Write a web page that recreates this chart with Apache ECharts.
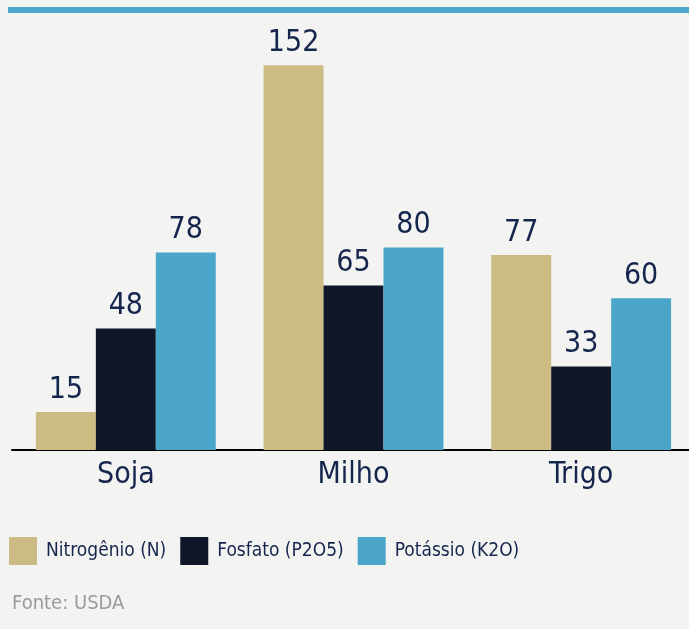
<!DOCTYPE html>
<html><head><meta charset="utf-8">
<script src="https://cdn.jsdelivr.net/npm/echarts@6/dist/echarts.min.js"></script>
<style>html,body{margin:0;padding:0;background:#f3f3f1;overflow:hidden}#c{width:700px;height:629px}</style>
</head><body><div id="c"></div>
<script>
const categories = ['Soja', 'Milho', 'Trigo'];
const nitrogenio = [15, 152, 77];
const fosfato = [48, 65, 33];
const potassio = [78, 80, 60];
const seriesNames = ['Nitrogênio (N)', 'Fosfato (P2O5)', 'Potássio (K2O)'];
const colors = ['#cdbb84', '#0f1729', '#4aa5c8'];
const FONT = '"Liberation Sans Narrow", "DejaVu Sans Condensed", sans-serif';
const chart = echarts.init(document.getElementById('c'));
function mk(name, data, color) {
  return {
    name, type: 'bar', data, barGap: '0%', barCategoryGap: '21%',
    itemStyle: { color },
    label: { show: true, position: 'top', distance: 7, color: '#15254d', fontSize: 30, fontFamily: FONT }
  };
}
chart.setOption({
  backgroundColor: '#f3f3f1',
  animation: false,
  color: colors,
  grid: { left: 12, top: 45, width: 683, height: 405, containLabel: false },
  xAxis: {
    type: 'category', data: categories,
    axisLine: { lineStyle: { color: '#000', width: 2 } },
    axisTick: { show: false },
    axisLabel: { color: '#15254d', fontSize: 30, fontFamily: FONT, margin: 10 }
  },
  yAxis: { type: 'value', min: 0, max: 160, show: false, splitLine: { show: false } },
  legend: {
    left: 9, top: 537, padding: 0, itemWidth: 28, itemHeight: 28, itemGap: 14,
    icon: 'rect',
    textStyle: { color: '#15254d', fontSize: 19, fontFamily: FONT, padding: [0, 0, 0, 4] },
    data: seriesNames
  },
  graphic: [
    { type: 'rect', shape: { x: 8, y: 7, width: 690, height: 6 }, style: { fill: '#4aa8cc' } },
    { type: 'text', left: 12, top: 594, style: { text: 'Fonte: USDA', fill: '#9a9a9a', fontSize: 20, fontFamily: FONT } }
  ],
  series: [mk(seriesNames[0], nitrogenio, colors[0]), mk(seriesNames[1], fosfato, colors[1]), mk(seriesNames[2], potassio, colors[2])]
});
</script></body></html>
